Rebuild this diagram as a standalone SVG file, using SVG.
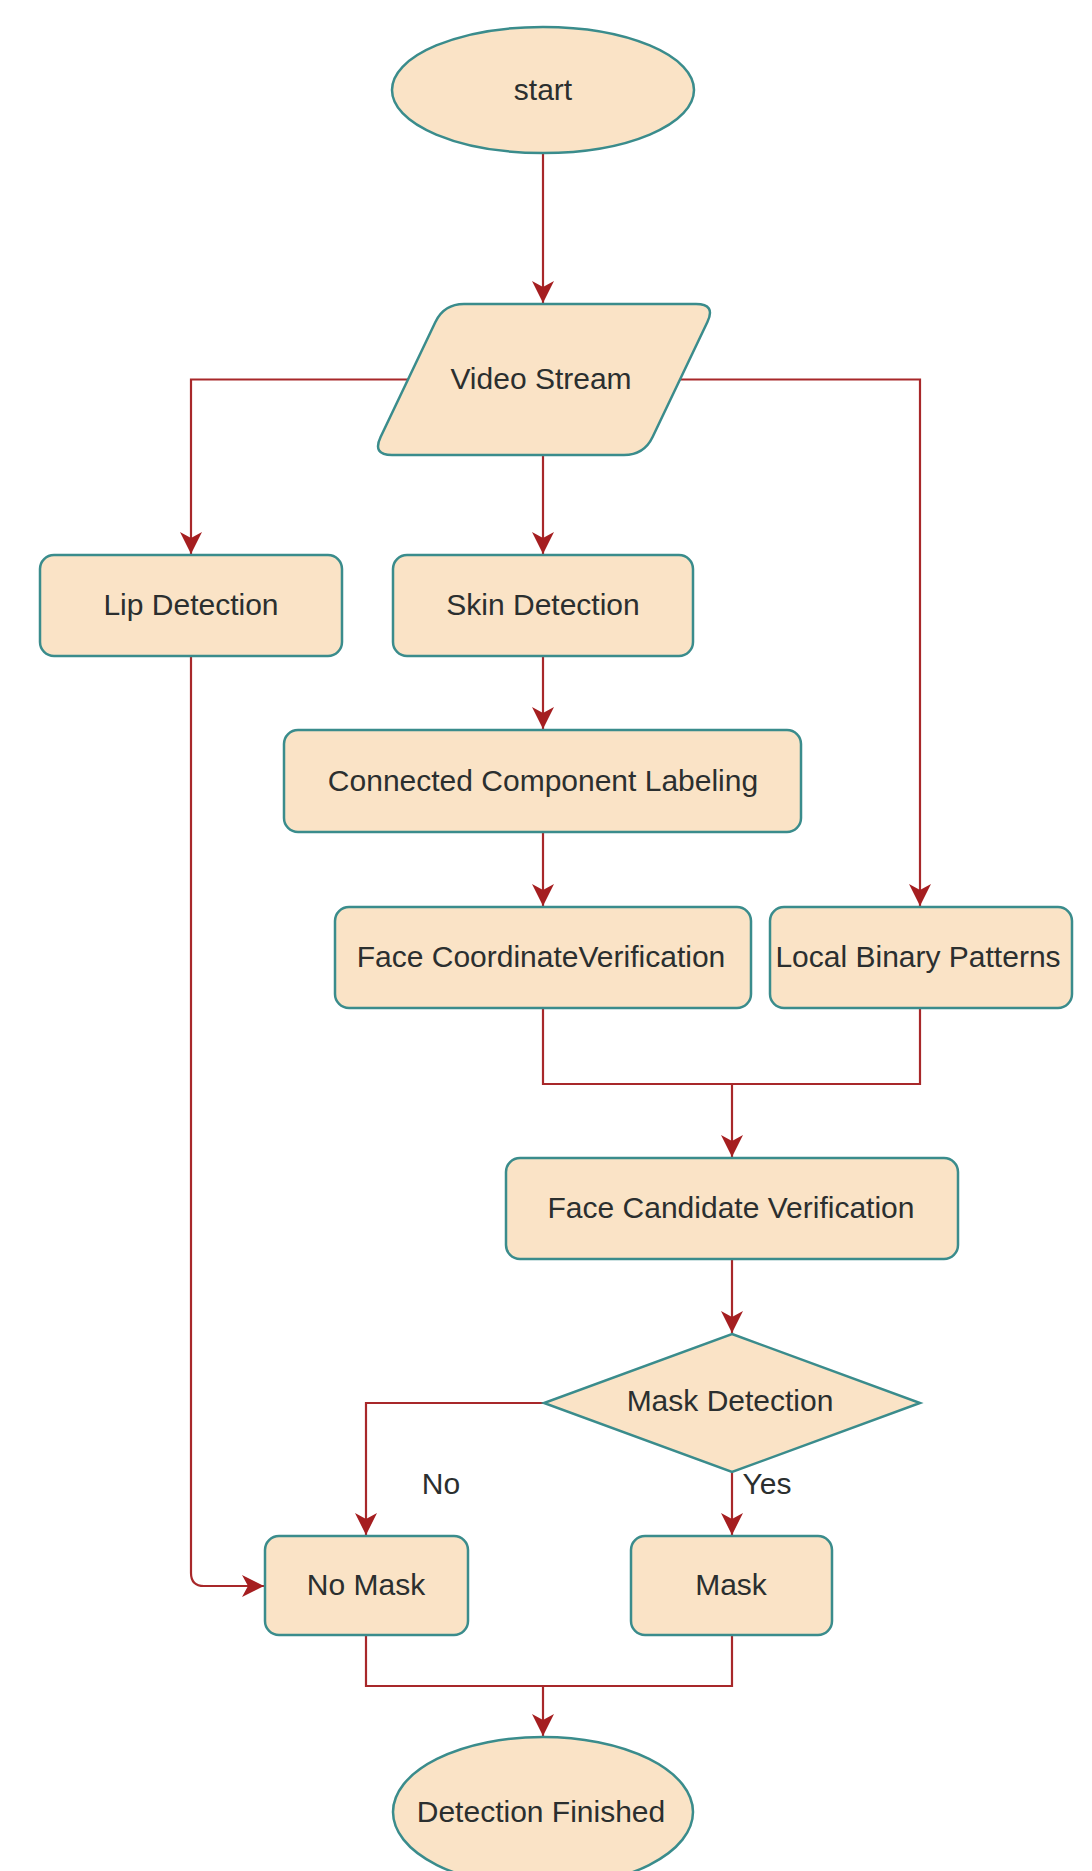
<svg xmlns="http://www.w3.org/2000/svg" width="1092" height="1871" viewBox="0 0 1092 1871">
<defs>
<style>
.n{fill:#FAE3C6;stroke:#3A8C8C;stroke-width:2.5}
.t{font-family:"Liberation Sans",Arial,sans-serif;font-size:30px;fill:#2B2F2F;text-anchor:middle}
.c{fill:none;stroke:#A8282A;stroke-width:2.2}
.a{marker-end:url(#arr)}
</style>
<marker id="arr" viewBox="0 0 22 22" refX="22" refY="11" markerWidth="22" markerHeight="22" markerUnits="userSpaceOnUse" orient="auto">
<path d="M0,0 L22,11 L0,22 L6,11 Z" fill="#A51E20"/>
</marker>
</defs>
<rect width="1092" height="1871" fill="#fff"/>
<g id="connectors">
<path class="c a" d="M543,153 L543,303"/>
<path class="c a" d="M408,379.5 L191,379.5 L191,554"/>
<path class="c a" d="M680,379.5 L920,379.5 L920,906"/>
<path class="c a" d="M543,455 L543,554"/>
<path class="c a" d="M543,656 L543,729"/>
<path class="c a" d="M543,832 L543,906"/>
<path class="c" d="M543,1008 L543,1084 L920,1084 L920,1008"/>
<path class="c a" d="M732,1084 L732,1157"/>
<path class="c a" d="M732,1259 L732,1333"/>
<path class="c a" d="M544,1403 L366,1403 L366,1535"/>
<path class="c a" d="M732,1472 L732,1535"/>
<path class="c a" d="M191,656 L191,1573 Q191,1586 204,1586 L264,1586"/>
<path class="c" d="M366,1635 L366,1686 L732,1686 L732,1635"/>
<path class="c a" d="M543,1686 L543,1736"/>
<text class="t" x="441" y="1494">No</text>
<text class="t" x="767" y="1494">Yes</text>
</g>
<g id="start">
<ellipse class="n" cx="543" cy="90" rx="151" ry="63"/>
<text class="t" x="543" y="100">start</text>
</g>
<g id="video-stream">
<path class="n" d="M464,304 L696,304 Q716,304 707.4,322 L652.6,437 Q644,455 624,455 L392,455 Q372,455 380.6,437 L435.4,322 Q444,304 464,304 Z"/>
<text class="t" x="541" y="389">Video Stream</text>
</g>
<g id="lip-detection">
<rect class="n" x="40" y="555" width="302" height="101" rx="14"/>
<text class="t" x="191" y="615">Lip Detection</text>
</g>
<g id="skin-detection">
<rect class="n" x="393" y="555" width="300" height="101" rx="14"/>
<text class="t" x="543" y="615">Skin Detection</text>
</g>
<g id="ccl">
<rect class="n" x="284" y="730" width="517" height="102" rx="14"/>
<text class="t" x="543" y="791">Connected Component Labeling</text>
</g>
<g id="face-coordinate-verification">
<rect class="n" x="335" y="907" width="416" height="101" rx="14"/>
<text class="t" x="541" y="967">Face CoordinateVerification</text>
</g>
<g id="local-binary-patterns">
<rect class="n" x="770" y="907" width="302" height="101" rx="14"/>
<text class="t" x="918" y="967">Local Binary Patterns</text>
</g>
<g id="face-candidate-verification">
<rect class="n" x="506" y="1158" width="452" height="101" rx="14"/>
<text class="t" x="731" y="1218">Face Candidate Verification</text>
</g>
<g id="mask-detection">
<path class="n" d="M732,1334 L920,1403 L732,1472 L544,1403 Z"/>
<text class="t" x="730" y="1411">Mask Detection</text>
</g>
<g id="no-mask">
<rect class="n" x="265" y="1536" width="203" height="99" rx="14"/>
<text class="t" x="366" y="1595">No Mask</text>
</g>
<g id="mask">
<rect class="n" x="631" y="1536" width="201" height="99" rx="14"/>
<text class="t" x="731" y="1595">Mask</text>
</g>
<g id="detection-finished">
<ellipse class="n" cx="543" cy="1812" rx="150" ry="75"/>
<text class="t" x="541" y="1822">Detection Finished</text>
</g>
</svg>
